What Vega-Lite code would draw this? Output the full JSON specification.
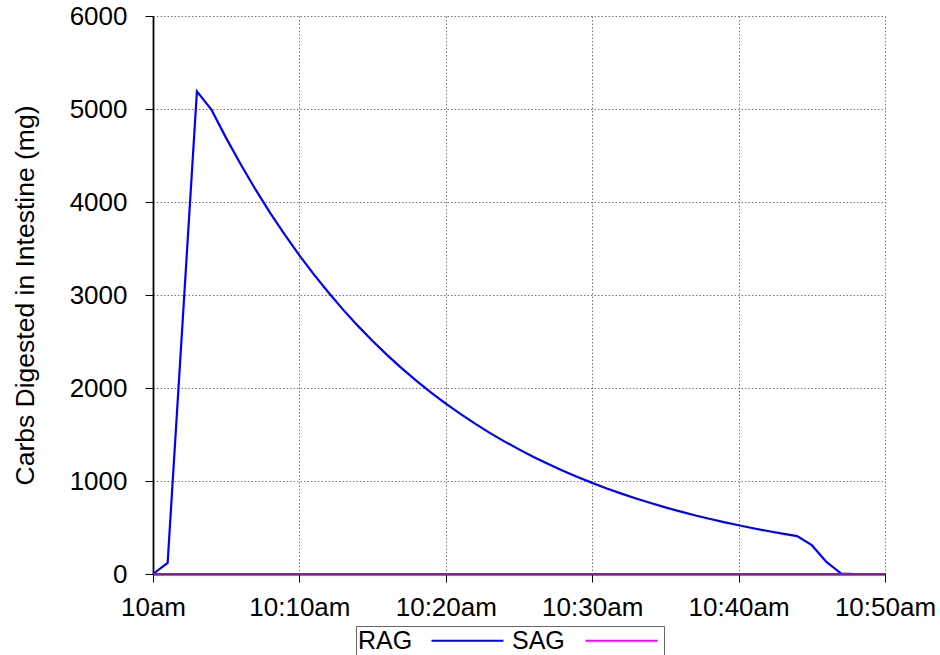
{
  "$schema": "https://vega.github.io/schema/vega-lite/v6.json",
  "autosize": "none",
  "width": 732,
  "height": 558,
  "padding": {"left": 153, "top": 16, "right": 55, "bottom": 81},
  "background": "white",
  "config": {
    "view": {"stroke": null},
    "font": "Liberation Sans",
    "axis": {
      "labelFont": "Liberation Sans",
      "titleFont": "Liberation Sans",
      "labelColor": "#000",
      "titleColor": "#000",
      "tickColor": "#000",
      "domainColor": "#000",
      "gridColor": "#777",
      "gridDash": [1.5, 2],
      "gridWidth": 1,
      "gridOpacity": 1,
      "titleFontWeight": "normal"
    }
  },
  "data": {
    "values": [
      {"t": 0, "series": "RAG", "v": 0},
      {"t": 1, "series": "RAG", "v": 120},
      {"t": 3, "series": "RAG", "v": 5190},
      {"t": 4, "series": "RAG", "v": 4990},
      {"t": 5, "series": "RAG", "v": 4687},
      {"t": 6, "series": "RAG", "v": 4403},
      {"t": 7, "series": "RAG", "v": 4135},
      {"t": 8, "series": "RAG", "v": 3884},
      {"t": 9, "series": "RAG", "v": 3649},
      {"t": 10, "series": "RAG", "v": 3427},
      {"t": 11, "series": "RAG", "v": 3219},
      {"t": 12, "series": "RAG", "v": 3024},
      {"t": 13, "series": "RAG", "v": 2840},
      {"t": 14, "series": "RAG", "v": 2668},
      {"t": 15, "series": "RAG", "v": 2506},
      {"t": 16, "series": "RAG", "v": 2354},
      {"t": 17, "series": "RAG", "v": 2211},
      {"t": 18, "series": "RAG", "v": 2077},
      {"t": 19, "series": "RAG", "v": 1951},
      {"t": 20, "series": "RAG", "v": 1832},
      {"t": 21, "series": "RAG", "v": 1721},
      {"t": 22, "series": "RAG", "v": 1617},
      {"t": 23, "series": "RAG", "v": 1518},
      {"t": 24, "series": "RAG", "v": 1426},
      {"t": 25, "series": "RAG", "v": 1340},
      {"t": 26, "series": "RAG", "v": 1258},
      {"t": 27, "series": "RAG", "v": 1182},
      {"t": 28, "series": "RAG", "v": 1110},
      {"t": 29, "series": "RAG", "v": 1043},
      {"t": 30, "series": "RAG", "v": 980},
      {"t": 31, "series": "RAG", "v": 920},
      {"t": 32, "series": "RAG", "v": 864},
      {"t": 33, "series": "RAG", "v": 812},
      {"t": 34, "series": "RAG", "v": 763},
      {"t": 35, "series": "RAG", "v": 716},
      {"t": 36, "series": "RAG", "v": 673},
      {"t": 37, "series": "RAG", "v": 632},
      {"t": 38, "series": "RAG", "v": 594},
      {"t": 39, "series": "RAG", "v": 558},
      {"t": 40, "series": "RAG", "v": 524},
      {"t": 41, "series": "RAG", "v": 492},
      {"t": 42, "series": "RAG", "v": 462},
      {"t": 43, "series": "RAG", "v": 434},
      {"t": 44, "series": "RAG", "v": 408},
      {"t": 45, "series": "RAG", "v": 310},
      {"t": 46, "series": "RAG", "v": 130},
      {"t": 47, "series": "RAG", "v": 5},
      {"t": 48, "series": "RAG", "v": 0},
      {"t": 49, "series": "RAG", "v": 0},
      {"t": 50, "series": "RAG", "v": 0},
      {"t": 0, "series": "SAG", "v": 0},
      {"t": 5, "series": "SAG", "v": 0},
      {"t": 10, "series": "SAG", "v": 0},
      {"t": 15, "series": "SAG", "v": 0},
      {"t": 20, "series": "SAG", "v": 0},
      {"t": 25, "series": "SAG", "v": 0},
      {"t": 30, "series": "SAG", "v": 0},
      {"t": 35, "series": "SAG", "v": 0},
      {"t": 40, "series": "SAG", "v": 0},
      {"t": 45, "series": "SAG", "v": 0},
      {"t": 50, "series": "SAG", "v": 0}
    ]
  },
  "encoding": {
    "x": {
      "field": "t",
      "type": "quantitative",
      "scale": {"domain": [0, 50], "nice": false, "zero": false},
      "axis": {
        "title": null,
        "values": [0, 10, 20, 30, 40, 50],
        "labelExpr": "datum.value == 0 ? '10am' : '10:' + datum.value + 'am'",
        "labelFontSize": 26,
        "tickSize": 8,
        "labelPadding": 12,
        "domainWidth": 2,
        "labelFlush": false,
        "labelOverlap": false
      }
    },
    "y": {
      "field": "v",
      "type": "quantitative",
      "scale": {"domain": [0, 6000], "nice": false},
      "axis": {
        "title": "Carbs Digested in Intestine (mg)",
        "titleFontSize": 26.5,
        "titlePadding": 30,
        "values": [0, 1000, 2000, 3000, 4000, 5000, 6000],
        "format": "d",
        "labelFontSize": 26,
        "tickSize": 8,
        "labelPadding": 18,
        "domainWidth": 1.8,
        "labelFlush": false,
        "labelOverlap": false
      }
    }
  },
  "layer": [
    {
      "mark": {"type": "line", "strokeWidth": 2.2, "clip": false},
      "encoding": {
        "color": {
          "field": "series",
          "type": "nominal",
          "scale": {"domain": ["RAG", "SAG"], "range": ["#0000ff", "#ff00ff"]},
          "legend": {
            "title": null,
            "orient": "none",
            "legendX": 203,
            "legendY": 610,
            "direction": "horizontal",
            "symbolType": "M10.17,0H22.17",
            "symbolSize": 144,
            "symbolStrokeWidth": 2,
            "labelFont": "Liberation Sans",
            "labelFontSize": 25,
            "labelColor": "#000",
            "labelAlign": "left",
            "labelOffset": -25,
            "strokeColor": "#666",
            "padding": 2,
            "columnPadding": 4
          }
        }
      }
    },
    {
      "transform": [{"filter": "datum.series == 'SAG'"}],
      "mark": {"type": "line", "strokeWidth": 1.6, "clip": false, "color": "#7a1a86"},
      "encoding": {}
    }
  ]
}
